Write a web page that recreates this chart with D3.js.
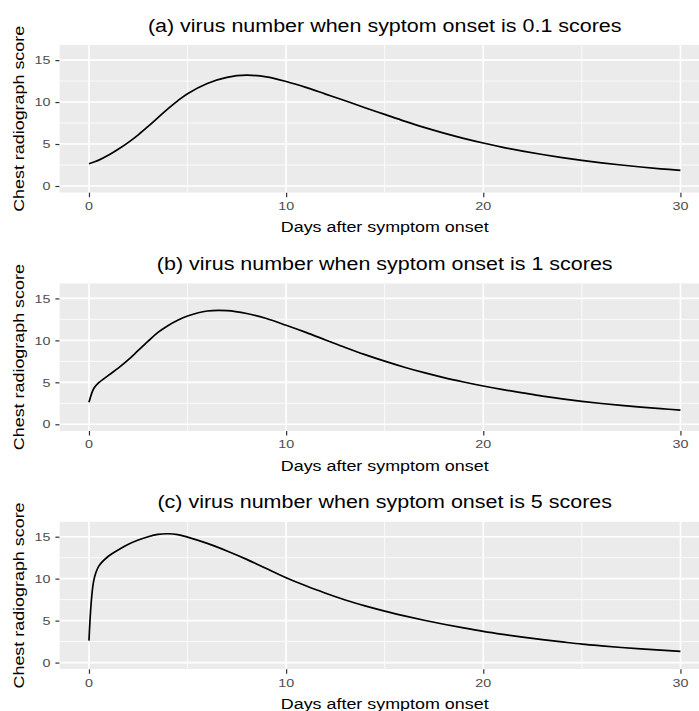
<!DOCTYPE html>
<html>
<head>
<meta charset="utf-8">
<script src="https://cdn.jsdelivr.net/npm/d3@7"></script>
<style>
  html, body { margin: 0; padding: 0; background: #ffffff; }
  svg { display: block; }
</style>
</head>
<body>
<div id="chart"></div>
<script>
// ---------------- data ----------------
const days = [0, 0.25, 0.5, 1, 1.5, 2, 2.5, 3, 3.5, 4, 4.5, 5, 6, 7, 8, 9, 10, 11, 12, 13, 14, 15,
              16, 17, 18, 19, 20, 21, 22, 23, 24, 25, 26, 27, 28, 29, 30];
const scoreA = [2.65, 2.85, 3.08, 3.68, 4.4, 5.2, 6.1, 7.1, 8.15, 9.2, 10.15, 11.0, 12.22, 12.95, 13.2, 13.0, 12.45, 11.75,
                10.95, 10.15, 9.33, 8.53, 7.73, 6.98, 6.3, 5.68, 5.12, 4.61, 4.16, 3.75, 3.38, 3.05, 2.76, 2.5, 2.26, 2.05, 1.86];
const scoreB = [2.62, 4.3, 4.95, 5.85, 6.72, 7.7, 8.8, 9.9, 10.95, 11.75, 12.4, 12.9, 13.5, 13.55, 13.2, 12.6, 11.8, 10.95,
                10.05, 9.15, 8.3, 7.52, 6.8, 6.15, 5.56, 5.04, 4.56, 4.13, 3.74, 3.36, 3.03, 2.74, 2.48, 2.25, 2.04, 1.86, 1.69];
const scoreC = [2.62, 9.85, 11.5, 12.7, 13.45, 14.1, 14.6, 15.0, 15.28, 15.35, 15.25, 14.95, 14.2, 13.3, 12.3, 11.2, 10.12, 9.15,
                8.27, 7.45, 6.75, 6.13, 5.57, 5.05, 4.57, 4.13, 3.72, 3.36, 3.03, 2.73, 2.46, 2.2, 1.99, 1.8, 1.63, 1.48, 1.34];
const panelTitles = [
  "(a) virus number when syptom onset is 0.1 scores",
  "(b) virus number when syptom onset is 1 scores",
  "(c) virus number when syptom onset is 5 scores"
];
const xTitle = "Days after symptom onset";
const yTitle = "Chest radiograph score";
const xTicks = [0, 10, 20, 30];
const xMinor = [5, 15, 25];
const yTicks = [0, 5, 10, 15];
const yMinor = [2.5, 7.5, 12.5];
const xDomain = [0, 30];
const yDomain = [0, 16];

// ---------------- layout ----------------
const W = 699, H = 711;
const SX = 1.22;            // horizontal text stretch seen in the reference
const panelLeft = 59.4, panelRight = 710;
const panelTop0 = 45, panelH = 147.7, panelStep = 238.3;

const svg = d3.select("#chart").append("svg")
  .attr("width", W).attr("height", H)
  .style("font-family", "'Liberation Sans', Arial, Helvetica, sans-serif");
svg.append("rect").attr("width", W).attr("height", H).attr("fill", "#ffffff");

function expand(dom) {
  const d = (dom[1] - dom[0]) * 0.05;
  return [dom[0] - d, dom[1] + d];
}

const x = d3.scaleLinear().domain(expand(xDomain)).range([panelLeft, panelRight]);

function addText(g, str, tx, ty, size, anchor, fill, rotate) {
  const tr = `translate(${tx},${ty})` + (rotate ? ` rotate(${rotate})` : "") + ` scale(${SX},1)`;
  return g.append("text")
    .attr("transform", tr)
    .attr("text-anchor", anchor)
    .attr("font-size", size)
    .attr("fill", fill)
    .text(str);
}

const series = [scoreA, scoreB, scoreC];

series.forEach((vals, i) => {
  const top = panelTop0 + i * panelStep;
  const bottom = top + panelH;
  const y = d3.scaleLinear().domain(expand(yDomain)).range([bottom, top]);
  const g = svg.append("g");

  const clipId = "clip" + i;
  svg.append("clipPath").attr("id", clipId)
    .append("rect").attr("x", panelLeft).attr("y", top)
    .attr("width", panelRight - panelLeft).attr("height", panelH);

  const pg = g.append("g").attr("clip-path", `url(#${clipId})`);
  pg.append("rect").attr("x", panelLeft).attr("y", top)
    .attr("width", panelRight - panelLeft).attr("height", panelH)
    .attr("fill", "#EBEBEB");

  // minor grid
  pg.selectAll(".ym").data(yMinor).enter().append("line")
    .attr("x1", panelLeft).attr("x2", panelRight)
    .attr("y1", d => y(d)).attr("y2", d => y(d))
    .attr("stroke", "#ffffff").attr("stroke-width", 0.8);
  pg.selectAll(".xm").data(xMinor).enter().append("line")
    .attr("y1", top).attr("y2", bottom)
    .attr("x1", d => x(d)).attr("x2", d => x(d))
    .attr("stroke", "#ffffff").attr("stroke-width", 0.8);
  // major grid
  pg.selectAll(".yM").data(yTicks).enter().append("line")
    .attr("x1", panelLeft).attr("x2", panelRight)
    .attr("y1", d => y(d)).attr("y2", d => y(d))
    .attr("stroke", "#ffffff").attr("stroke-width", 1.6);
  pg.selectAll(".xM").data(xTicks).enter().append("line")
    .attr("y1", top).attr("y2", bottom)
    .attr("x1", d => x(d)).attr("x2", d => x(d))
    .attr("stroke", "#ffffff").attr("stroke-width", 1.6);

  // curve
  const line = d3.line()
    .x((d, k) => x(days[k]))
    .y(d => y(d))
    .curve(d3.curveCatmullRom.alpha(0.5));
  pg.append("path").datum(vals)
    .attr("d", line)
    .attr("fill", "none")
    .attr("stroke", "#000000")
    .attr("stroke-width", 1.7)
    .attr("stroke-linejoin", "round");

  // axes (ticks + labels)
  const yAxis = d3.axisLeft(y).tickValues(yTicks).tickSize(4).tickFormat("");
  const ya = g.append("g").attr("transform", `translate(${panelLeft},0)`).call(yAxis);
  ya.select(".domain").remove();
  ya.selectAll(".tick line").attr("stroke", "#333333").attr("stroke-width", 1.2);

  const xAxis = d3.axisBottom(x).tickValues(xTicks).tickSize(4.5).tickFormat("");
  const xa = g.append("g").attr("transform", `translate(0,${bottom})`).call(xAxis);
  xa.select(".domain").remove();
  xa.selectAll(".tick line").attr("stroke", "#333333").attr("stroke-width", 1.2);

  yTicks.forEach(t => addText(g, String(t), panelLeft - 9, y(t) + 4.2, 11.73, "end", "#4D4D4D"));
  xTicks.forEach(t => addText(g, String(t), x(t), bottom + 17.3, 11.73, "middle", "#4D4D4D"));

  const cx = (panelLeft + panelRight) / 2;
  addText(g, panelTitles[i], cx, top - 13.3, 17.6, "middle", "#000000");
  addText(g, xTitle, cx, bottom + 39.6, 14.67, "middle", "#000000");
  addText(g, yTitle, 23.8, (top + bottom) / 2, 14.67, "middle", "#000000", -90);
});
</script>
</body>
</html>
